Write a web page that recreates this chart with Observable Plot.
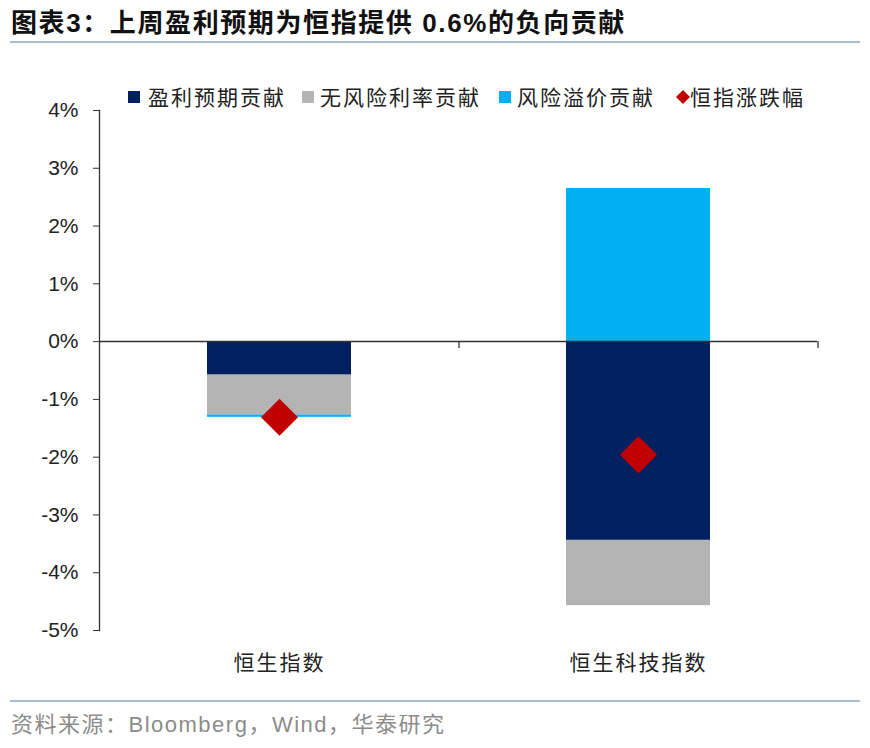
<!DOCTYPE html>
<html>
<head>
<meta charset="utf-8">
<script src="https://cdn.jsdelivr.net/npm/d3@7"></script>
<script src="https://cdn.jsdelivr.net/npm/@observablehq/plot@0.6"></script>
<style>
  body { margin: 0; background: #fff; width: 870px; font-family: "Noto Sans CJK SC", "Liberation Sans", sans-serif; }
  #title { height: 41px; line-height: 46px; padding-left: 11px; font-family: "Liberation Sans", "Noto Sans CJK SC", sans-serif; font-size: 26px; font-weight: bold; color: #111; letter-spacing: 1.6px; white-space: nowrap; }
  .rule { height: 2px; margin: 0 10px; background: #a9bcd3; }
  #chart { position: relative; height: 657px; }
  #legend { position: absolute; left: 0; top: 0; width: 870px; height: 0; }
  .item { position: absolute; top: 40px; font-size: 21px; letter-spacing: 2px; color: #222; line-height: 26px; white-space: nowrap; }
  .sw { position: absolute; width: 12px; height: 12px; top: 48px; }
  #source { height: 46px; line-height: 46px; padding-left: 11px; font-family: "Liberation Sans", "Noto Sans CJK SC", sans-serif; font-size: 22px; color: #8c8c8c; letter-spacing: 1.5px; white-space: nowrap; }
  g[aria-label="x-axis tick label"] text { letter-spacing: 2px; }
</style>
</head>
<body>
<div id="title">图表3：上周盈利预期为恒指提供 0.6%的负向贡献</div>
<div class="rule"></div>
<div id="chart"><div id="legend"></div></div>
<div class="rule"></div>
<div id="source">资料来源：Bloomberg，Wind，华泰研究</div>
<script>
// Data
const categories = ["恒生指数", "恒生科技指数"];
const series = ["盈利预期贡献", "无风险利率贡献", "风险溢价贡献"];
const colors = ["#002060", "#b4b4b4", "#00b0f0"];
const earnings = [-0.58, -3.44];     // 盈利预期贡献 (%)
const riskFree = [-0.69, -1.13];     // 无风险利率贡献 (%)
const riskPremium = [-0.04, 2.65];   // 风险溢价贡献 (%)
const indexChange = [-1.31, -1.96];  // 恒指涨跌幅 (%)
const totalLabel = "恒指涨跌幅";
const yTicks = [-5, -4, -3, -2, -1, 0, 1, 2, 3, 4];

const seriesValues = [earnings, riskFree, riskPremium];
const rows = [];
series.forEach((s, si) => categories.forEach((c, ci) => rows.push({category: c, series: s, value: seriesValues[si][ci]})));
const totals = categories.map((c, i) => ({category: c, value: indexChange[i]}));

const W = 870, H = 657, mL = 99, mR = 53, mT = 67, mB = 70;
const step = (W - mL - mR) / categories.length;

const plot = Plot.plot({
  width: W, height: H,
  marginLeft: mL, marginRight: mR, marginTop: mT, marginBottom: mB,
  style: {background: "transparent", fontFamily: "Liberation Sans, Arial, sans-serif", fontSize: "21px", color: "#222", overflow: "visible"},
  x: {domain: categories, paddingInner: 0.6, paddingOuter: 0.3, label: null},
  y: {domain: [-5, 4], label: null},
  color: {domain: series, range: colors},
  marks: [
    Plot.barY(rows, Plot.stackY({x: "category", y: "value", fill: "series", z: "series", order: series})),
    Plot.frame({anchor: "left", stroke: "#333", strokeWidth: 1.3}),
    Plot.ruleY([0], {stroke: "#333", strokeWidth: 1.5}),
    Plot.ruleX(categories, {x: d => d, y1: 0, y2: -0.12, dx: step / 2, stroke: "#333", strokeWidth: 1.3}),
    Plot.dot(totals, {x: "category", y: "value", symbol: "diamond2", r: 16.7, fill: "#c00000", stroke: "none"}),
    Plot.axisY({ticks: yTicks, tickFormat: d => d + "%", tickSize: 6, tickPadding: 15, stroke: "#333", fontSize: 21, label: null}),
    Plot.axisX({tickSize: 0, tickPadding: 25, fontSize: 21, fontFamily: "Noto Sans CJK SC", label: null})
  ]
});
const chart = document.getElementById("chart");
chart.insertBefore(plot, chart.firstChild);
plot.style.position = "absolute";
plot.style.left = "0";
plot.style.top = "0";

// Legend (HTML)
const legend = document.getElementById("legend");
const legendPos = [{sw: 128, tx: 148}, {sw: 302, tx: 320}, {sw: 499, tx: 517}, {sw: 676, tx: 690}];
series.forEach((s, i) => {
  const sw = document.createElement("div");
  sw.className = "sw";
  sw.style.left = legendPos[i].sw + "px";
  sw.style.background = colors[i];
  legend.appendChild(sw);
  const t = document.createElement("div");
  t.className = "item";
  t.style.left = legendPos[i].tx + "px";
  t.textContent = s;
  legend.appendChild(t);
});
const dia = document.createElementNS("http://www.w3.org/2000/svg", "svg");
dia.setAttribute("width", "14"); dia.setAttribute("height", "14");
dia.style.position = "absolute"; dia.style.left = legendPos[3].sw + "px"; dia.style.top = "47px";
dia.innerHTML = '<path d="M7,0L14,7L7,14L0,7Z" fill="#c00000"/>';
legend.appendChild(dia);
const t4 = document.createElement("div");
t4.className = "item";
t4.style.left = legendPos[3].tx + "px";
t4.textContent = totalLabel;
legend.appendChild(t4);
</script>
</body>
</html>
